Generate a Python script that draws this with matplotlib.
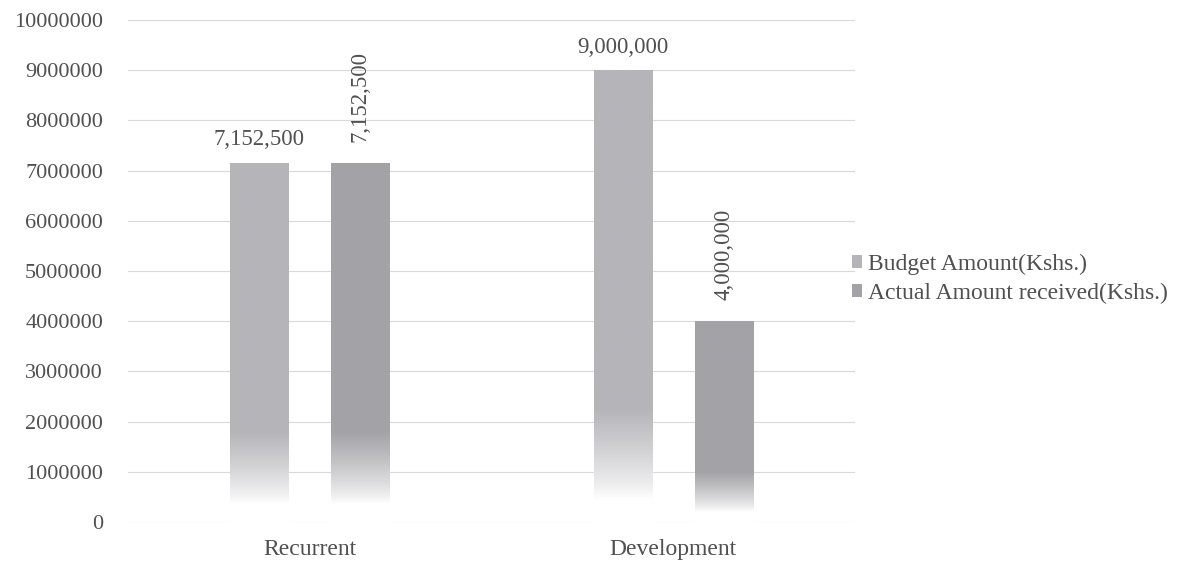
import numpy as np
import matplotlib.pyplot as plt
from matplotlib.patches import Patch
from matplotlib.ticker import MultipleLocator, FuncFormatter

# %% data
categories = ["Recurrent", "Development"]
series = ["Budget Amount(Kshs.)", "Actual Amount received(Kshs.)"]
budget = [7152500, 9000000]
actual = [7152500, 4000000]
colors = ["#b5b4b9", "#a3a2a7"]

plt.rcParams["font.family"] = ["Liberation Serif", "DejaVu Serif"]
text_col = "#505050"

# %% figure
fig = plt.figure(figsize=(11.77, 5.61), dpi=100)
ax = fig.add_axes([0.1088, 0.0695, 0.6176, 0.8948])

x = np.arange(len(categories))
width = 0.16
offset = 0.139


def gradient_bar(rect, color):
    # gray at the top, fading to white near the base
    rgb = np.array(plt.matplotlib.colors.to_rgb(color))
    n = 200
    frac = np.linspace(0, 1, n)[:, None]  # 0 at bottom, 1 at top
    a = np.clip((frac - 0.05) / 0.2, 0, 1) ** 0.8
    img = (1 - a)[..., None] * np.ones(3) + a[..., None] * rgb
    img = np.repeat(img, 2, axis=1)
    x0, y0 = rect.get_x(), rect.get_y()
    w, h = rect.get_width(), rect.get_height()
    im = ax.imshow(img, extent=(x0, x0 + w, y0, y0 + h), origin="lower",
                   aspect="auto", zorder=2, interpolation="bilinear")
    im.set_clip_path(rect)


for vals, col, dx, rot in [(budget, colors[0], -offset, 0), (actual, colors[1], offset, 90)]:
    bars = ax.bar(x + dx, vals, width, color="none", edgecolor="none", zorder=2)
    for b, v in zip(bars, vals):
        gradient_bar(b, col)
        if rot == 0:
            ax.annotate(f"{v:,}", (b.get_x() + b.get_width() / 2, v),
                        xytext=(0, 9), textcoords="offset points",
                        ha="center", va="bottom", fontsize=16.5, color=text_col)
        else:
            ax.annotate(f"{v:,}", (b.get_x() + b.get_width() / 2, v),
                        xytext=(0, 15), textcoords="offset points", rotation=90,
                        ha="center", va="bottom", fontsize=16.5, color=text_col)

ax.set_xlim(-0.5, 1.5)
ax.set_ylim(0, 10000000)
ax.yaxis.set_major_locator(MultipleLocator(1000000))
ax.yaxis.set_major_formatter(FuncFormatter(lambda v, p: f"{int(v)}"))
ax.set_xticks(x)
ax.set_xticklabels(categories)
ax.tick_params(axis="both", length=0, colors=text_col)
ax.tick_params(axis="y", labelsize=16, pad=18)
ax.tick_params(axis="x", labelsize=17, pad=12)
ax.grid(axis="y", color="#d9d9d9", lw=0.8, zorder=0)
ax.set_axisbelow(True)
for s in ax.spines.values():
    s.set_visible(False)

handles = [Patch(facecolor=c, edgecolor="none") for c in colors]
fig.legend(handles, series, loc="center left", bbox_to_anchor=(0.7155, 0.503),
           frameon=False, fontsize=17, handlelength=0.45, handleheight=0.45,
           handletextpad=0.25, labelspacing=0.35, labelcolor=text_col,
           borderaxespad=0)

fig.savefig("out.png", dpi=100)
